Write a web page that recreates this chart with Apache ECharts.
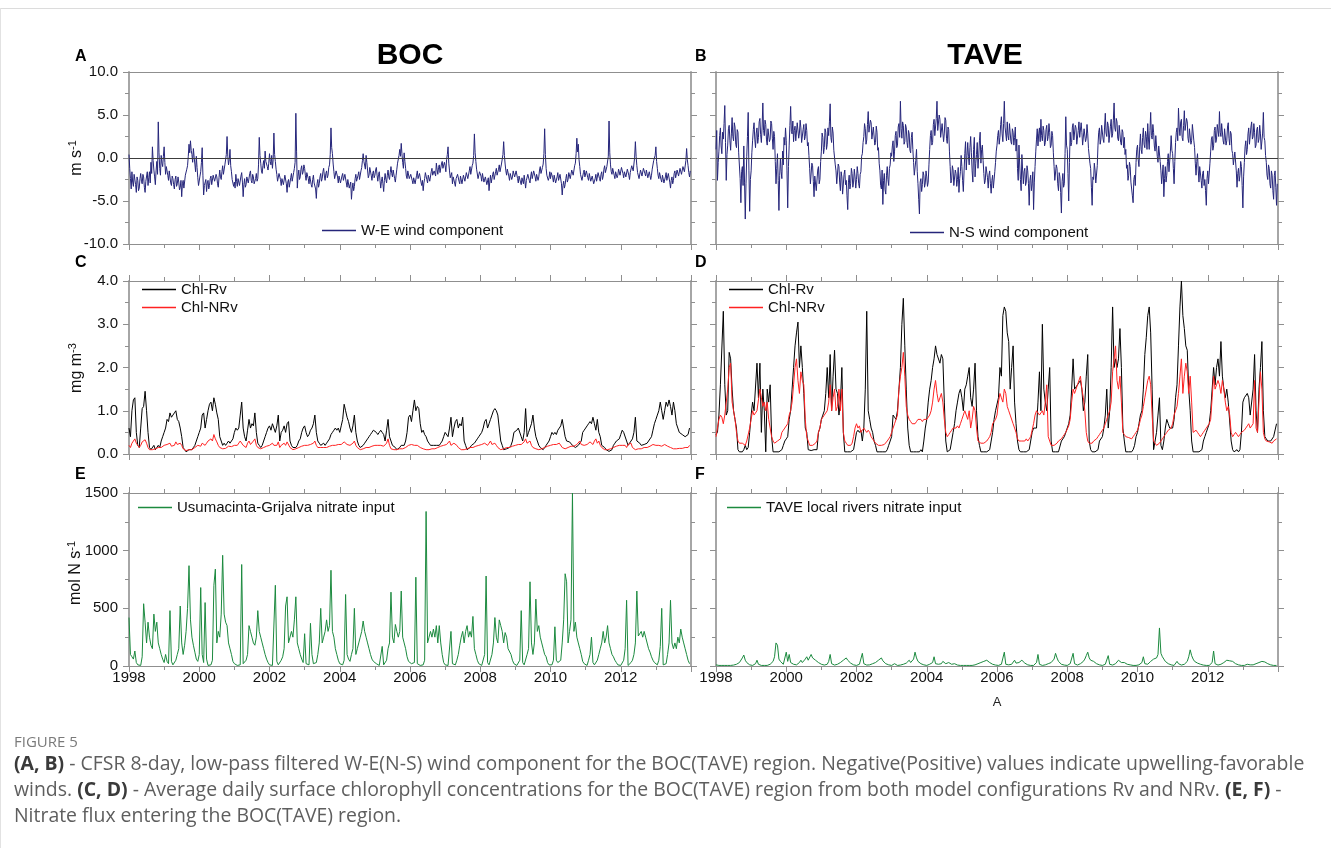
<!DOCTYPE html>
<html>
<head>
<meta charset="utf-8">
<title>Figure 5 – wind, chlorophyll and nitrate flux, BOC and TAVE</title>
<script src="https://cdn.jsdelivr.net/npm/echarts@6/dist/echarts.min.js"></script>
<style>
  html, body { margin: 0; padding: 0; background: #fff; }
  #wrap { position: relative; width: 1331px; height: 848px; overflow: hidden; background: #fff; }
  #chart { position: absolute; left: 0; top: 0; width: 1331px; height: 848px; }
  .rule-top { position: absolute; left: 0; top: 8px; width: 1331px; height: 1px; background: #dcdcdc; }
  .rule-left { position: absolute; left: 0; top: 8px; width: 1px; height: 840px; background: #e2e2e2; }
  #figlabel { position: absolute; left: 14px; top: 732px; font-family: 'Open Sans', sans-serif;
              font-size: 15px; line-height: 18px; color: #7a7a7a; white-space: nowrap; }
  #caption { position: absolute; left: 14px; top: 750px; font-family: 'Open Sans', sans-serif;
             font-size: 17px; line-height: 26px; color: #5e5e5e; white-space: nowrap; }
  #caption b { color: #3a3a3a; font-weight: 700; }
  #caption span { display: inline-block; }
</style>
</head>
<body>
<div id="wrap">
  <div class="rule-top"></div>
  <div class="rule-left"></div>
  <div id="chart"></div>
  <div id="figlabel">FIGURE 5</div>
  <div id="caption">
    <span id="capLine1"><b>(A, B)</b> - CFSR 8-day, low-pass filtered W-E(N-S) wind component for the BOC(TAVE) region. Negative(Positive) values indicate upwelling-favorable</span><br>
    <span>winds. <b>(C, D)</b> - Average daily surface chlorophyll concentrations for the BOC(TAVE) region from both model configurations Rv and NRv. <b>(E, F)</b> -</span><br>
    <span>Nitrate flux entering the BOC(TAVE) region.</span>
  </div>
</div>
<script>
// Time axis: each row is one year (1998 ... 2013); wind rows are weekly-ish,
// chlorophyll and nitrate rows are twice a month.
const FIRST_YEAR = 1998;
const yearTicks = [1998, 2000, 2002, 2004, 2006, 2008, 2010, 2012];

// (A) W-E wind component, BOC [m s-1]
const windWE = [
  [0.4,-1.2,-2.4,-3.6,-1.6,-2.8,-3.3,-1.9,-2.0,-3.1,-4.0,-2.2,-2.6,-3.8,-3.5,-2.4,-1.8,-2.7,-3.0,-1.9,-2.2,-3.4,-4.0,-2.7,-2.5,-1.6,-3.2,-2.3,-1.6,-2.9,-0.5,-1.8,1.3,-0.3,-1.4,-2.2,-3.1,-1.5,-0.4,-1.9,4.2,0.6,-1.2,-2.0,0.3,-0.6,-1.0,0.2],
  [1.3,-0.5,-1.9,-1.0,-0.8,-2.0,-2.6,-1.5,-1.7,-2.9,-3.2,-2.1,-2.4,-3.1,-3.6,-2.5,-2.1,-3.3,-3.0,-2.2,-2.8,-3.7,-3.4,-2.6,-4.5,-3.0,-2.6,-3.5,-3.3,-2.0,-2.2,-1.3,-0.9,0.2,1.6,0.6,2.0,0.9,0.4,-0.5,1.1,0.1,-0.7,-1.6,0.2,-1.1,-2.3,-3.2],
  [-3.0,-2.1,-1.6,-0.5,1.2,-2.0,-4.3,-3.2,-3.4,-2.5,-3.9,-2.9,-2.6,-3.6,-3.2,-2.4,-2.1,-3.1,-3.0,-2.0,-1.8,-2.7,-2.8,-1.9,-2.2,-3.0,-3.4,-2.3,-1.4,-2.2,-2.5,-1.6,-0.9,-1.9,-1.7,-0.8,-0.6,0.4,2.5,0.2,-0.8,-0.2,1.0,-0.9,-1.6,-2.5,-2.4,-3.3],
  [-2.8,-3.5,-1.9,-2.7,-3.3,-2.4,-2.2,-3.2,-3.0,-2.1,-1.7,-2.8,-4.5,-3.1,-2.4,-3.4,-3.1,-2.2,-2.0,-2.9,-2.7,-1.8,-1.5,-2.6,-2.9,-1.9,-2.2,-3.0,-3.1,-2.4,-1.8,-2.7,-2.4,-0.8,2.4,0.3,-0.6,-1.5,-1.8,-0.9,-0.3,-1.2,0.8,-0.4,-0.2,-1.0,-1.4,-0.6],
  [0.5,-0.4,-0.8,0.3,-1.2,-0.2,2.9,0.4,-0.4,-1.3,-1.9,-2.7,-2.8,-1.8,-1.6,-2.5,-3.2,-2.4,-2.3,-3.1,-3.0,-2.0,-2.1,-3.0,-4.0,-2.8,-2.5,-3.4,-3.3,-2.3,-1.8,-2.7,-2.6,-1.7,-1.2,-0.5,5.2,0.8,-3.5,-2.1,-1.4,-2.5,-2.2,-1.3,-0.9,-1.9,-1.6,-0.8],
  [-1.2,-2.0,-2.6,-1.7,-1.5,-2.4,-3.0,-2.1,-2.2,-3.1,-3.4,-2.5,-2.0,-2.9,-2.8,-3.6,-4.7,-3.0,-2.5,-3.4,-3.0,-2.2,-1.8,-2.7,-2.4,-1.6,-1.2,-2.1,-2.6,-1.8,-1.5,-2.3,-2.0,-1.1,-0.8,0.4,3.5,1.2,0.5,-0.7,-1.6,-2.4,-2.3,-1.5,-1.4,-2.2,-2.9,-2.1],
  [-2.2,-2.9,-3.0,-2.1,-1.8,-2.6,-2.7,-1.9,-2.0,-2.9,-3.4,-2.5,-2.6,-3.5,-3.6,-2.8,-4.8,-3.6,-2.9,-3.8,-3.3,-2.4,-1.9,-2.7,-2.8,-2.0,-1.6,-2.5,-2.4,-1.5,-1.1,-0.3,0.5,-0.4,-0.6,-1.3,0.3,-0.5,-1.4,-2.3,-2.0,-1.1,-1.2,-2.0,-2.6,-1.8,-1.5,-2.3],
  [-2.0,-1.4,-1.1,-2.0,-2.7,-1.9,-1.6,-2.6,-3.5,-2.7,-2.2,-3.0,-3.9,-2.6,-1.8,-2.5,-2.9,-2.0,-1.4,-2.2,-2.5,-1.7,-1.0,-1.8,-2.2,-1.4,-1.5,-2.4,-2.8,-2.0,-1.3,-0.6,-0.4,0.3,1.0,0.2,1.7,0.5,-0.5,-1.2,0.6,-0.4,-1.2,-2.1,-2.4,-1.5,-1.6,-2.4],
  [-2.6,-1.9,-1.7,-2.6,-3.0,-2.3,-2.1,-3.0,-2.8,-2.0,-1.5,-2.4,-2.6,-1.8,-2.0,-2.8,-3.2,-2.6,-3.8,-2.9,-2.4,-1.7,-1.6,-2.5,-2.9,-2.0,-1.8,-2.7,-2.5,-1.6,-1.2,-2.0,-2.2,-1.5,-1.4,-2.1,-0.6,-1.3,-1.9,-1.1,-0.8,-1.7,-1.5,-0.7,-0.4,-1.2,-1.3,-0.5],
  [-0.9,-1.6,-0.2,0.4,1.3,-0.6,-1.5,-2.3,-2.4,-1.7,-3.0,-2.2,-2.1,-2.9,-3.3,-2.4,-2.6,-1.9,-1.8,-2.7,-3.0,-2.1,-2.2,-3.0,-2.8,-2.0,-1.9,-2.7,-2.5,-1.7,-1.6,-2.4,-2.3,-1.5,-1.0,-1.9,-1.7,-0.9,-0.6,0.3,2.8,0.6,-0.4,-1.3,-1.5,-2.4,-2.3,-1.6],
  [-1.4,-2.1,-2.7,-1.8,-1.9,-2.8,-3.0,-2.2,-2.3,-3.1,-2.9,-2.3,-3.8,-2.8,-2.0,-2.9,-2.7,-1.9,-1.6,-2.5,-2.4,-1.6,-1.2,-2.0,-2.1,-1.3,-0.8,-1.6,-1.5,-0.7,-0.5,0.4,1.9,0.3,-0.7,-1.5,-2.0,-1.3,-1.2,-2.1,-2.6,-1.8,-1.7,-2.5,-2.2,-1.5,-1.4,-2.2],
  [-2.3,-1.5,-1.6,-2.4,-2.9,-2.1,-2.0,-2.8,-3.1,-2.3,-2.4,-3.0,-2.0,-2.7,-3.5,-2.6,-2.6,-1.9,-1.8,-2.6,-2.9,-2.1,-1.6,-2.4,-2.3,-1.5,-1.4,-2.2,-2.7,-1.9,-1.8,-2.6,-2.2,-1.4,-1.0,-1.8,-1.9,-1.1,-0.7,0.5,3.4,0.4,-1.2,-2.0,-1.8,-2.6,-2.3,-1.6],
  [-2.4,-1.7,-1.5,-2.3,-2.8,-2.0,-2.0,-2.9,-3.0,-2.2,-1.7,-2.6,-2.6,-1.9,-2.0,-3.0,-4.3,-3.2,-2.7,-3.5,-3.1,-2.4,-1.9,-2.8,-2.5,-1.7,-1.6,-2.4,-2.2,-1.4,-1.2,-2.0,-1.8,-0.9,-0.6,0.5,2.3,0.7,1.6,-0.2,-1.0,-1.9,-1.8,-2.6,-2.5,-1.7,-1.4,-2.2],
  [-2.2,-1.5,-1.4,-2.3,-2.6,-1.8,-1.8,-2.7,-2.9,-2.1,-2.3,-3.0,-3.2,-2.4,-1.9,-2.7,-2.5,-1.7,-1.5,-2.4,-2.7,-1.9,-1.6,-2.5,-2.1,-1.3,-0.9,-1.7,-1.8,-1.0,-1.2,0.2,4.3,0.6,-0.8,-1.6,-1.9,-1.2,-1.1,-2.0,-2.4,-1.6,-1.5,-2.3,-2.0,-1.3,-1.2,-2.0],
  [-1.8,-1.1,-1.0,-1.8,-2.3,-1.6,-1.4,-2.2,-2.0,-1.3,-1.2,-2.0,-2.5,-1.7,-1.6,-0.9,-0.7,-1.5,-1.3,0.1,1.9,0.2,-0.9,-1.7,-1.6,-2.4,-2.2,-1.4,-1.3,-2.1,-1.9,-1.2,-1.0,-1.8,-2.1,-1.4,-1.5,-2.3,-2.4,-1.6,-1.7,-2.5,-2.0,-1.3,-1.1,-0.3,-0.4,0.3],
  [1.3,-0.4,-1.2,-2.0,-2.4,-1.7,-1.6,-2.5,-2.8,-2.0,-2.0,-2.9,-3.0,-2.2,-1.7,-2.6,-2.5,-1.8,-1.8,-2.8,-3.5,-2.6,-2.2,-3.0,-2.6,-1.8,-1.5,-2.3,-2.2,-1.4,-1.3,-2.1,-2.0,-1.2,-1.1,-1.9,-1.8,-1.0,-0.8,-1.6,-1.4,-0.3,1.1,-0.2,-0.9,-1.7,-2.2,-1.5]
];

// (B) N-S wind component, TAVE [m s-1]
const windNS = [
  [1.0,3.2,-2.6,-0.5,0.8,2.6,3.5,1.4,0.5,3.0,2.2,4.0,6.1,1.8,-2.6,0.4,1.5,3.4,3.8,2.0,0.9,2.8,4.7,2.5,2.0,4.1,3.6,1.6,1.2,3.3,3.0,0.6,0.8,-2.4,-5.2,-1.6,-1.0,-3.2,1.4,-2.8,-7.1,-3.0,0.2,2.5,5.3,-1.5,-6.2,-2.5],
  [-1.5,0.6,2.0,3.3,4.1,2.2,1.2,2.9,3.5,1.7,2.4,4.2,4.6,2.7,1.8,3.6,6.4,3.2,2.6,4.4,3.9,2.1,1.5,3.4,3.2,1.9,2.2,4.3,4.0,2.3,1.0,3.1,2.5,-0.4,-3.0,-1.2,0.5,-2.6,-6.1,-2.0,0.0,-1.6,-2.4,0.8,-0.8,2.4,1.5,3.5],
  [2.0,-1.5,-5.8,-1.0,1.5,3.8,6.0,3.1,2.8,4.3,1.9,3.2,3.7,2.0,2.2,4.1,4.0,2.3,2.9,4.4,3.5,1.8,1.6,3.3,3.9,2.1,2.5,4.0,3.2,1.4,1.8,0.3,-1.2,-3.0,-2.8,-0.6,-0.9,-2.7,-4.5,-2.1,-2.0,-3.8,-3.6,-1.4,-1.0,-3.0,-2.5,-0.4],
  [0.8,2.9,2.4,0.5,1.2,3.4,3.0,1.0,1.6,3.5,2.6,4.2,6.3,2.4,1.8,3.6,2.9,0.9,0.7,-0.8,-1.5,-3.0,-3.2,-0.7,-1.0,-2.8,-3.8,-1.6,-2.2,-4.2,-4.0,-1.9,-1.4,-3.1,-2.6,-4.4,-6.0,-2.8,-2.0,-3.6,-3.0,-1.2,-1.8,-3.4,-2.8,-1.3,-2.2,-3.5],
  [-2.5,-1.0,-1.8,-3.0,-3.5,-1.9,-1.6,0.2,0.5,1.8,2.5,4.0,3.4,1.6,2.1,3.9,5.4,3.0,2.8,4.4,4.1,2.2,2.0,3.6,3.5,1.5,1.8,3.7,3.0,0.9,1.2,-0.6,-1.5,-3.2,-3.6,-1.4,-5.4,-2.6,-1.8,-3.7,-4.2,-2.0,-1.0,-2.5,-3.2,-1.2,-0.8,0.6],
  [0.2,1.4,2.0,-0.4,0.8,2.6,3.1,1.2,1.5,3.6,4.0,2.4,6.6,3.4,2.3,4.2,3.8,1.6,1.9,3.9,3.5,1.8,1.2,3.2,2.8,0.9,0.6,2.4,3.0,1.0,-0.5,-2.0,-2.2,-0.3,1.0,-1.6,-3.0,-4.8,-6.5,-2.8,-2.4,-3.9,-3.1,-1.6,-2.0,-3.4,-2.9,-1.5],
  [-2.2,-3.3,-2.8,-0.8,1.0,2.6,3.2,1.5,1.8,3.9,4.5,2.6,2.6,4.6,6.6,3.2,3.0,5.0,4.5,2.4,2.2,4.0,3.8,1.9,2.9,4.7,4.4,2.3,1.7,3.6,3.3,0.8,-1.0,-2.9,-2.6,-0.9,-1.4,-3.2,-3.0,-1.4,-1.8,-3.3,-2.5,-1.1,-4.0,-2.4,-1.6,0.3],
  [-1.0,-2.6,-3.9,-1.5,0.5,1.9,-1.4,0.3,1.8,0.2,-0.8,1.2,2.5,0.6,-1.5,-2.8,1.0,2.4,-2.2,-0.6,0.4,1.8,-1.2,0.1,2.0,3.0,-0.6,1.0,1.5,-0.3,-1.8,-3.0,-2.6,-1.0,-0.8,-2.3,-3.5,-2.0,-1.5,-3.0,-4.1,-2.6,-2.0,-3.5,-3.4,-1.6,-0.5,0.8],
  [1.5,2.6,3.2,1.6,2.4,3.9,4.8,2.8,1.9,4.0,6.6,3.6,3.5,2.0,4.2,2.6,2.1,4.0,3.8,1.9,1.6,3.4,3.0,1.5,2.4,3.6,0.8,2.2,-1.2,-2.6,1.5,-0.7,-2.5,-3.8,0.4,-1.4,-3.0,-1.6,-1.2,-3.2,-2.8,-0.9,-1.5,-3.0,-5.5,-2.6,-2.0,-3.8],
  [-3.0,-1.6,-6.0,-2.8,-1.0,0.8,2.2,3.4,1.4,2.8,3.5,1.9,4.5,2.6,2.0,3.7,3.2,1.4,1.8,3.3,3.8,2.0,2.5,4.0,3.0,1.2,1.5,3.1,2.6,0.6,-1.0,-2.6,-2.5,-0.8,-1.2,-3.0,-3.8,-1.7,-2.2,-4.0,-6.4,-2.7,-1.8,-3.4,-3.0,0.5,4.8,1.5],
  [1.0,-1.8,-5.0,-0.5,3.0,1.4,1.8,3.6,4.0,2.1,2.2,3.8,3.5,1.6,1.4,3.2,4.2,2.4,2.6,4.1,3.0,1.5,1.6,3.4,3.6,1.9,2.3,3.9,2.8,1.1,1.0,-0.6,-1.2,-3.4,-5.5,-2.2,-2.5,-0.6,-1.4,-2.9,-3.0,-0.9,1.5,3.0,3.5,1.6,2.2,3.8],
  [4.0,2.2,1.8,3.6,5.2,2.9,2.5,4.2,3.8,1.8,2.0,3.7,4.5,2.4,2.8,4.4,6.4,3.5,3.1,4.6,4.2,2.3,2.0,3.8,3.6,1.8,1.5,3.3,3.0,1.2,2.4,0.4,1.0,-1.2,-0.8,-2.6,-2.0,-0.5,-1.0,-2.8,-3.0,-4.4,-5.2,-2.5,-2.0,-3.2,-0.5,1.0],
  [1.5,-0.2,-1.0,1.3,2.8,1.0,0.5,2.4,3.5,1.6,1.2,3.1,2.5,1.0,4.0,2.2,1.0,3.2,5.3,2.6,2.2,3.9,3.0,1.4,0.8,2.6,2.4,0.2,-0.5,1.4,1.6,-0.4,-1.5,-3.0,-2.8,-0.8,-4.5,-2.4,-1.0,-2.8,-2.0,-0.4,0.5,-1.6,-1.5,0.8,2.6,0.9],
  [0.5,-1.2,-3.0,-0.4,1.8,3.0,3.5,2.0,5.8,3.6,2.6,4.2,4.5,2.4,2.0,3.8,5.5,3.2,3.0,4.6,4.2,2.3,1.8,3.4,3.3,1.6,2.0,3.9,3.8,2.0,1.2,-0.6,-2.0,-0.4,0.5,-1.4,-2.8,-1.0,-1.0,-2.6,-3.5,-1.8,-1.5,-3.2,-2.5,-3.8,-5.5,-2.4],
  [-1.5,-3.0,-2.8,-0.6,0.8,2.2,2.5,0.9,1.4,3.2,3.6,1.8,2.2,3.9,4.0,2.5,5.4,3.0,2.5,4.0,3.8,2.0,1.6,3.4,3.2,1.5,2.0,3.6,4.1,2.3,1.5,3.1,2.8,0.9,0.5,-0.8,-1.0,0.7,0.8,-1.5,-3.4,-1.8,-1.2,-2.7,-2.0,-0.4,-1.0,-3.2],
  [-5.8,-2.2,-0.5,1.3,2.0,0.4,1.0,2.8,3.5,1.6,1.8,3.6,4.2,2.2,2.5,4.0,3.0,1.2,1.5,3.3,3.6,1.8,2.2,3.8,2.8,1.0,1.0,2.9,5.3,2.4,2.0,0.3,-0.5,-2.0,-2.5,-0.8,-1.2,-3.0,-3.5,-1.5,-2.0,-3.8,-4.8,-2.0,-1.5,-3.4,-5.5,-3.0]
];

// (C) Surface chlorophyll, BOC, with rivers (Rv) [mg m-3]
const chlRvBOC = [
  [0.6,0.4,1.0,1.25,1.3,0.5,0.2,0.15,0.6,1.05,1.1,1.45,1.0,0.5,0.15,0.1,0.12,0.2,0.1,0.15,0.2,0.15,0.3,0.4],
  [0.5,0.6,0.8,0.75,0.95,0.85,0.9,0.95,1.0,0.8,0.75,0.6,0.4,0.15,0.1,0.05,0.08,0.1,0.12,0.1,0.15,0.2,0.3,0.4],
  [0.5,0.6,0.9,0.95,0.6,0.8,1.0,1.15,1.2,1.0,1.3,1.15,0.95,0.8,0.4,0.3,0.2,0.25,0.2,0.25,0.3,0.25,0.3,0.35],
  [0.5,0.6,0.55,0.6,0.9,1.2,0.6,0.4,0.3,0.55,0.8,0.6,0.7,0.65,0.95,0.5,0.25,0.2,0.15,0.2,0.3,0.4,0.5,0.6],
  [0.65,0.55,0.7,0.6,0.5,0.65,0.9,0.3,0.5,0.55,0.65,0.5,0.7,0.75,0.3,0.2,0.15,0.12,0.15,0.2,0.3,0.35,0.5,0.6],
  [0.65,0.5,0.4,0.45,0.55,0.6,0.7,0.9,0.5,0.3,0.25,0.2,0.2,0.25,0.2,0.25,0.3,0.35,0.45,0.5,0.55,0.6,0.55,0.6],
  [0.5,0.65,0.8,1.15,1.0,0.85,0.75,0.6,0.5,0.65,0.9,0.5,0.3,0.2,0.15,0.15,0.2,0.25,0.3,0.35,0.4,0.45,0.5,0.55],
  [0.55,0.5,0.45,0.5,0.55,0.5,0.45,0.3,0.55,0.8,0.4,0.3,0.2,0.2,0.15,0.1,0.1,0.15,0.2,0.2,0.2,0.3,0.5,0.85],
  [0.9,0.75,1.0,1.25,1.0,1.1,1.05,0.7,0.5,0.55,0.45,0.4,0.3,0.25,0.2,0.22,0.2,0.18,0.2,0.22,0.2,0.25,0.3,0.4],
  [0.5,0.5,0.4,0.6,0.85,0.4,0.6,0.75,0.8,0.6,0.7,0.65,0.85,0.3,0.2,0.1,0.1,0.15,0.2,0.2,0.25,0.3,0.35,0.4],
  [0.4,0.5,0.6,0.75,0.8,0.6,0.7,0.8,0.9,1.0,1.05,1.0,0.9,0.6,0.3,0.2,0.1,0.1,0.12,0.15,0.15,0.2,0.3,0.5],
  [0.5,0.55,0.6,0.6,0.4,0.3,0.5,1.05,0.4,0.5,0.6,0.7,0.9,0.6,0.4,0.3,0.2,0.15,0.12,0.1,0.15,0.2,0.2,0.3],
  [0.4,0.5,0.45,0.5,0.45,0.55,0.6,0.65,0.8,0.6,0.4,0.3,0.3,0.28,0.25,0.2,0.18,0.15,0.15,0.2,0.2,0.3,0.5,0.55],
  [0.6,0.65,0.7,0.75,0.7,0.85,0.7,0.55,0.8,0.5,0.4,0.2,0.2,0.15,0.1,0.08,0.06,0.05,0.1,0.2,0.25,0.3,0.3,0.35],
  [0.45,0.55,0.5,0.5,0.3,0.2,0.25,0.3,0.35,0.5,0.85,0.3,0.3,0.25,0.2,0.2,0.22,0.25,0.25,0.3,0.3,0.4,0.55,0.7],
  [0.8,0.9,1.0,1.2,1.0,0.8,1.0,1.2,1.1,1.25,1.1,0.9,1.2,1.0,0.7,0.6,0.5,0.5,0.45,0.45,0.4,0.4,0.45,0.6]
];

// (C) Surface chlorophyll, BOC, without rivers (NRv) [mg m-3]
const chlNRvBOC = [
  [0.2,0.15,0.25,0.3,0.35,0.25,0.2,0.15,0.2,0.28,0.3,0.33,0.25,0.15,0.1,0.08,0.1,0.1,0.12,0.12,0.15,0.13,0.15,0.18],
  [0.2,0.18,0.22,0.2,0.25,0.18,0.22,0.2,0.28,0.22,0.2,0.25,0.2,0.12,0.1,0.08,0.08,0.1,0.1,0.1,0.12,0.15,0.18,0.2],
  [0.2,0.18,0.25,0.22,0.2,0.25,0.3,0.28,0.35,0.3,0.45,0.35,0.28,0.2,0.15,0.12,0.12,0.15,0.13,0.15,0.18,0.15,0.17,0.2],
  [0.2,0.18,0.2,0.22,0.3,0.32,0.2,0.18,0.15,0.25,0.3,0.22,0.25,0.3,0.35,0.2,0.15,0.12,0.12,0.13,0.15,0.15,0.18,0.2],
  [0.2,0.22,0.25,0.2,0.18,0.2,0.28,0.15,0.2,0.22,0.25,0.2,0.28,0.25,0.15,0.12,0.1,0.1,0.12,0.12,0.15,0.15,0.18,0.2],
  [0.2,0.18,0.2,0.18,0.22,0.2,0.25,0.3,0.2,0.15,0.15,0.15,0.13,0.15,0.13,0.15,0.15,0.18,0.2,0.2,0.22,0.2,0.2,0.22],
  [0.2,0.22,0.25,0.28,0.25,0.22,0.2,0.2,0.18,0.25,0.3,0.2,0.15,0.12,0.1,0.1,0.12,0.12,0.15,0.15,0.15,0.18,0.18,0.2],
  [0.2,0.18,0.2,0.18,0.2,0.22,0.18,0.15,0.25,0.35,0.2,0.12,0.1,0.1,0.1,0.1,0.1,0.12,0.12,0.12,0.15,0.15,0.18,0.2],
  [0.2,0.22,0.25,0.2,0.22,0.2,0.18,0.15,0.15,0.12,0.12,0.1,0.1,0.1,0.12,0.12,0.12,0.12,0.13,0.15,0.15,0.18,0.18,0.2],
  [0.2,0.22,0.2,0.3,0.2,0.22,0.25,0.28,0.2,0.15,0.12,0.1,0.1,0.1,0.12,0.12,0.13,0.15,0.15,0.15,0.18,0.18,0.2,0.2],
  [0.2,0.22,0.2,0.25,0.22,0.2,0.25,0.3,0.22,0.2,0.25,0.2,0.15,0.12,0.1,0.12,0.12,0.13,0.15,0.15,0.15,0.18,0.18,0.2],
  [0.2,0.2,0.22,0.25,0.22,0.2,0.28,0.35,0.25,0.22,0.3,0.2,0.15,0.12,0.12,0.12,0.1,0.12,0.12,0.13,0.15,0.15,0.18,0.2],
  [0.2,0.2,0.22,0.2,0.22,0.2,0.25,0.22,0.15,0.12,0.12,0.12,0.15,0.15,0.18,0.2,0.18,0.2,0.22,0.25,0.3,0.22,0.25,0.2],
  [0.2,0.22,0.25,0.28,0.3,0.22,0.3,0.35,0.25,0.3,0.2,0.15,0.12,0.1,0.08,0.1,0.12,0.12,0.13,0.15,0.15,0.18,0.18,0.2],
  [0.18,0.2,0.22,0.2,0.15,0.22,0.2,0.25,0.15,0.12,0.1,0.1,0.12,0.12,0.12,0.13,0.15,0.15,0.15,0.18,0.18,0.2,0.22,0.2],
  [0.2,0.22,0.2,0.22,0.18,0.2,0.22,0.2,0.18,0.15,0.15,0.15,0.12,0.12,0.12,0.12,0.13,0.13,0.13,0.15,0.15,0.15,0.15,0.2]
];

// (D) Surface chlorophyll, TAVE, with rivers (Rv) [mg m-3]
const chlRvTAVE = [
  [0.45,0.5,0.9,1.6,1.6,3.3,1.6,0.9,1.0,2.35,2.2,1.5,1.0,0.8,0.6,0.1,0.05,0.05,0.05,0.1,0.2,0.1,0.15,0.5],
  [0.9,1.2,1.0,1.0,2.1,1.3,2.1,0.5,1.5,1.0,0.05,1.5,1.2,1.6,0.4,0.05,0.05,0.05,0.05,0.05,0.05,0.1,0.2,0.3],
  [0.35,0.4,0.8,1.0,1.5,2.0,2.5,2.8,3.05,2.0,2.5,2.0,1.4,0.6,0.5,0.1,0.1,0.08,0.1,0.1,0.1,0.1,0.5,0.6],
  [0.8,0.9,1.0,1.4,2.0,1.3,2.3,1.0,1.8,2.4,1.5,1.4,0.9,1.2,2.0,0.5,0.05,0.05,0.05,0.05,0.05,0.08,0.1,0.3],
  [0.5,0.55,0.5,0.55,0.3,0.6,1.5,3.3,1.0,0.8,0.6,0.5,0.3,0.2,0.05,0.05,0.05,0.05,0.05,0.05,0.05,0.1,0.2,0.3],
  [0.4,0.9,0.85,0.8,1.0,1.5,2.0,3.0,3.6,2.5,1.5,0.6,0.2,0.05,0.05,0.05,0.05,0.05,0.05,0.05,0.1,0.05,0.3,0.6],
  [0.8,1.2,1.5,1.7,2.0,2.2,2.5,2.3,2.3,2.1,2.3,2.2,1.2,0.3,0.05,0.05,0.1,0.3,0.5,0.7,1.0,1.2,1.4,1.5],
  [1.3,1.0,1.5,1.6,1.8,2.0,1.3,1.1,1.5,2.1,1.0,0.4,0.2,0.05,0.05,0.05,0.05,0.05,0.05,0.1,0.3,0.5,0.8,1.0],
  [1.0,1.3,2.0,1.8,3.2,3.4,3.3,2.8,2.6,1.5,2.0,2.5,1.2,0.7,0.3,0.1,0.05,0.05,0.05,0.05,0.05,0.05,0.1,0.3],
  [0.5,0.6,0.6,0.6,1.2,1.9,1.0,3.0,1.5,1.2,1.0,1.5,2.0,0.3,0.05,0.05,0.05,0.05,0.05,0.05,0.3,0.3,0.4,0.5],
  [0.5,0.7,0.9,1.5,2.2,1.5,1.5,1.6,1.6,1.7,1.5,1.0,1.2,1.8,2.3,0.3,0.1,0.05,0.05,0.05,0.05,0.1,0.3,0.3],
  [0.4,0.6,0.9,1.5,0.6,1.0,2.0,3.4,2.0,2.2,2.0,2.2,2.9,2.0,0.6,0.3,0.05,0.05,0.05,0.05,0.05,0.1,0.2,0.4],
  [0.5,0.7,0.9,1.0,1.5,2.3,2.7,3.2,3.4,2.8,1.5,0.1,0.3,0.5,0.9,1.3,0.2,0.1,0.3,0.6,0.8,0.7,0.6,0.6],
  [0.6,0.8,1.3,1.6,2.5,3.4,4.0,3.2,2.9,2.5,2.4,1.5,1.0,0.3,0.05,0.05,0.05,0.05,0.05,0.05,0.1,0.3,0.4,0.5],
  [0.6,0.7,1.0,1.5,2.0,1.6,2.0,2.2,1.8,2.6,1.8,1.5,1.3,1.5,1.2,1.2,0.3,0.1,0.05,0.05,0.1,0.05,0.1,0.5],
  [1.2,1.3,1.3,1.4,1.3,0.9,0.9,1.5,2.3,1.0,0.5,1.5,2.0,2.6,1.0,0.4,0.35,0.3,0.3,0.3,0.3,0.4,0.4,0.7]
];

// (D) Surface chlorophyll, TAVE, without rivers (NRv) [mg m-3]
const chlNRvTAVE = [
  [0.4,0.6,0.8,0.9,0.85,0.7,0.9,1.2,1.5,2.0,2.1,1.2,1.0,0.8,0.5,0.3,0.25,0.25,0.25,0.25,0.2,0.3,0.3,0.6],
  [0.8,1.0,0.9,0.9,1.0,1.0,1.5,1.3,1.1,1.2,1.0,1.2,0.8,0.8,0.4,0.3,0.25,0.25,0.3,0.3,0.35,0.5,0.55,0.6],
  [0.6,0.7,0.9,1.0,1.2,1.6,2.0,2.2,1.7,1.4,1.9,1.7,1.6,0.8,0.4,0.3,0.2,0.2,0.2,0.2,0.25,0.3,0.5,0.6],
  [0.8,0.85,0.9,0.9,1.0,1.2,1.6,1.0,1.3,1.5,1.0,1.1,1.5,1.0,1.5,0.5,0.3,0.25,0.2,0.2,0.2,0.25,0.4,0.6],
  [0.7,0.6,0.65,0.5,0.55,0.6,0.55,0.5,0.55,0.5,0.4,0.35,0.3,0.25,0.22,0.2,0.2,0.2,0.2,0.22,0.25,0.3,0.35,0.4],
  [0.5,0.6,0.7,0.8,0.9,1.5,1.8,2.0,2.35,1.8,1.1,0.9,0.8,0.75,0.7,0.7,0.7,0.75,0.8,0.8,0.8,0.75,0.8,0.8],
  [0.8,0.8,0.9,1.0,1.2,1.5,1.7,1.4,1.2,1.3,1.4,1.2,0.8,0.5,0.4,0.45,0.5,0.55,0.6,0.6,0.6,0.65,0.6,0.7],
  [0.8,0.9,1.0,1.0,0.8,1.0,0.6,0.8,1.1,1.0,0.6,0.3,0.3,0.25,0.25,0.25,0.25,0.3,0.35,0.4,0.5,0.7,0.75,0.8],
  [0.9,1.2,1.4,1.3,1.2,1.5,1.4,1.1,1.0,0.9,0.9,0.7,0.6,0.5,0.35,0.3,0.3,0.3,0.3,0.3,0.35,0.3,0.35,0.4],
  [0.4,0.7,0.9,1.0,1.0,0.9,0.9,1.0,0.9,1.2,1.6,0.4,0.3,0.2,0.2,0.2,0.2,0.25,0.3,0.3,0.35,0.4,0.45,0.5],
  [0.5,0.65,0.8,1.2,1.5,1.4,1.5,1.6,1.6,1.8,1.5,1.3,1.0,0.5,0.3,0.25,0.25,0.25,0.3,0.3,0.35,0.4,0.45,0.5],
  [0.55,0.6,0.7,0.8,0.9,1.0,1.2,1.9,2.2,2.5,1.7,1.5,1.8,1.2,0.5,0.45,0.4,0.4,0.38,0.35,0.35,0.4,0.45,0.5],
  [0.55,0.65,0.8,0.9,1.1,1.3,1.5,1.7,1.8,1.6,0.9,0.3,0.25,0.2,0.2,0.25,0.3,0.35,0.4,0.45,0.5,0.55,0.55,0.6],
  [0.7,0.9,1.0,1.1,1.4,1.8,2.2,1.4,1.8,2.1,1.9,1.4,1.8,1.2,0.5,0.5,0.55,0.5,0.45,0.4,0.45,0.5,0.55,0.6],
  [0.6,0.7,0.8,1.3,1.8,1.5,1.6,1.7,1.6,1.4,1.7,1.5,1.2,1.0,1.1,0.9,0.5,0.4,0.45,0.5,0.45,0.4,0.45,0.5],
  [0.5,0.55,0.6,0.65,0.7,0.6,0.65,0.7,1.7,0.6,0.5,1.2,1.9,1.5,0.5,0.35,0.3,0.3,0.28,0.25,0.25,0.3,0.3,0.35]
];

// (E) Usumacinta-Grijalva nitrate input [mol N s-1]
const nitrateBOC = [
  [420,100,80,60,130,30,10,5,5,80,540,380,200,380,250,180,150,450,300,380,200,150,100,60],
  [30,100,40,20,480,40,10,5,50,100,150,520,200,100,180,300,500,870,400,250,180,120,60,40],
  [100,680,100,30,550,60,5,5,10,50,700,840,200,300,250,450,960,450,380,350,200,150,100,40],
  [20,10,5,5,10,880,20,30,50,100,350,300,250,200,180,250,480,300,250,200,150,100,60,30],
  [10,5,5,20,700,40,10,10,50,80,150,520,600,200,250,300,250,400,600,200,150,100,60,30],
  [280,20,10,10,370,100,20,10,30,100,200,500,200,250,300,400,300,350,830,300,250,150,100,50],
  [20,10,10,50,620,100,60,40,100,150,500,100,150,200,250,300,390,300,250,200,150,100,60,40],
  [30,20,10,5,5,170,10,5,50,150,200,640,250,200,360,300,250,300,650,250,200,150,80,40],
  [30,20,10,30,770,20,5,5,5,10,50,1340,200,250,300,250,320,250,350,200,350,200,100,30],
  [10,5,5,10,300,20,10,10,50,100,180,250,300,200,300,350,250,300,250,430,150,100,50,20],
  [5,5,20,100,780,30,10,20,100,200,420,250,200,400,350,300,200,290,250,150,150,100,50,20],
  [5,5,10,50,480,30,10,20,100,150,730,200,100,200,580,300,350,250,200,150,100,80,30,10],
  [5,10,50,340,50,30,20,50,200,400,800,730,200,300,400,1500,300,380,250,200,150,100,40,20],
  [5,5,50,100,250,30,10,20,50,100,150,200,300,200,250,350,200,150,100,80,50,30,10,5],
  [5,10,50,150,570,5,10,30,50,100,200,650,260,250,300,250,300,250,250,150,120,80,50,30],
  [20,10,50,170,500,10,5,20,100,200,570,200,150,200,150,250,200,320,250,200,150,100,50,20]
];

// (F) TAVE local rivers nitrate input [mol N s-1]
const nitrateTAVE = [
  [10,8,5,5,5,5,5,5,5,5,5,5,8,10,15,20,30,45,70,95,50,30,18,10],
  [8,5,10,20,50,15,8,5,5,5,5,5,10,15,20,40,80,200,180,60,40,25,15,20],
  [120,40,100,30,20,15,10,10,20,30,50,30,40,60,80,50,60,100,70,80,50,40,30,20],
  [15,10,8,10,15,40,100,20,10,8,10,15,20,30,40,50,60,70,50,35,25,15,10,8],
  [5,5,15,30,110,20,10,8,8,10,15,20,25,30,40,50,60,70,45,30,20,15,10,8],
  [5,5,20,10,5,5,8,10,15,20,25,35,50,30,40,60,120,70,40,30,20,15,10,8],
  [5,5,15,20,30,80,20,10,15,25,20,40,25,20,25,30,20,15,25,20,10,8,5,5],
  [5,5,5,5,5,5,5,5,8,10,15,20,25,30,35,40,45,50,40,30,20,15,10,8],
  [5,5,10,15,30,120,15,8,10,20,15,30,50,25,20,30,40,50,35,25,15,10,8,5],
  [5,5,15,30,100,15,8,5,8,10,15,20,25,30,40,60,110,70,40,25,15,10,8,5],
  [5,5,20,30,110,20,10,8,15,20,30,40,60,90,120,70,50,60,40,30,20,15,10,8],
  [5,5,15,20,90,15,10,8,10,20,30,50,40,30,25,30,20,15,10,10,8,5,5,5],
  [5,10,20,30,80,20,10,15,30,40,50,60,60,70,100,330,110,80,60,40,30,20,15,10],
  [8,5,15,40,20,10,8,10,15,20,40,80,140,90,60,40,30,25,20,15,10,8,5,5],
  [5,5,15,30,130,20,10,8,10,15,20,30,40,50,60,45,55,40,30,20,15,10,8,5],
  [5,5,10,15,30,10,8,10,15,20,25,30,35,40,30,35,25,20,15,10,8,5,5,5]
];

// ---------------------------------------------------------------------------
// Turn the yearly rows into [decimal year, value] pairs.
function toPairs(rows) {
  const out = [];
  rows.forEach((row, i) => {
    row.forEach((v, k) => out.push([FIRST_YEAR + i + k / row.length, v]));
  });
  return out;
}

const FAMILY = '"Liberation Sans", Arial, sans-serif';
const AXIS_GREY = '#8f8f8f';
const SIDE_GREY = '#a6a6a6';
const W = 562;

// Panel frames: A, B (wind), C, D (chlorophyll), E, F (nitrate)
const frames = [
  { left: 129, top: 72,  height: 172 },
  { left: 716, top: 72,  height: 172 },
  { left: 129, top: 281, height: 173 },
  { left: 716, top: 281, height: 173 },
  { left: 129, top: 493, height: 173 },
  { left: 716, top: 493, height: 173 }
];

const yScales = [
  { min: -10, max: 10, interval: 5, fmt: v => v.toFixed(1) },
  { min: -10, max: 10, interval: 5, fmt: v => v.toFixed(1) },
  { min: 0, max: 4, interval: 1, fmt: v => v.toFixed(1) },
  { min: 0, max: 4, interval: 1, fmt: v => v.toFixed(1) },
  { min: 0, max: 1500, interval: 500, fmt: v => String(v) },
  { min: 0, max: 1500, interval: 500, fmt: v => String(v) }
];

const grid = frames.map(f => ({ left: f.left, top: f.top, width: W, height: f.height }));

const xAxis = [];
const yAxis = [];
frames.forEach((f, g) => {
  const isBottomRow = g >= 4;
  const topTicks = g >= 2;
  const common = {
    type: 'value', gridIndex: g, min: 1998, max: 2014, interval: 2,
    splitLine: { show: false }
  };
  xAxis.push(Object.assign({}, common, {
    position: 'bottom',
    axisLine: { show: true, onZero: false, lineStyle: { color: AXIS_GREY, width: 1 } },
    axisTick: { show: true, length: 6, lineStyle: { color: AXIS_GREY } },
    minorTick: { show: true, splitNumber: 2, length: 4, lineStyle: { color: AXIS_GREY } },
    axisLabel: {
      show: isBottomRow, margin: 4, fontSize: 15, fontFamily: FAMILY, color: '#111',
      showMaxLabel: false,
      formatter: v => (yearTicks.indexOf(v) >= 0 ? String(v) : '')
    },
    name: g === 5 ? 'A' : '',
    nameLocation: 'middle', nameGap: 30,
    nameTextStyle: { fontSize: 13, fontFamily: FAMILY, color: '#222' }
  }));
  xAxis.push(Object.assign({}, common, {
    position: 'top',
    axisLine: { show: true, onZero: false, lineStyle: { color: AXIS_GREY, width: 1 } },
    axisTick: { show: topTicks, length: 6, lineStyle: { color: AXIS_GREY } },
    minorTick: { show: topTicks, splitNumber: 2, length: 4, lineStyle: { color: AXIS_GREY } },
    axisLabel: { show: false }
  }));

  const ys = yScales[g];
  const leftPanel = g % 2 === 0;
  const yCommon = {
    type: 'value', gridIndex: g, min: ys.min, max: ys.max, interval: ys.interval,
    splitLine: { show: false },
    axisLine: { show: true, onZero: false, lineStyle: { color: SIDE_GREY, width: 2 } },
    axisTick: { show: true, length: 6, lineStyle: { color: AXIS_GREY } },
    minorTick: { show: true, splitNumber: 2, length: 4, lineStyle: { color: AXIS_GREY } }
  };
  yAxis.push(Object.assign({}, yCommon, {
    position: 'left',
    axisLabel: {
      show: leftPanel, margin: 11, fontSize: 15, fontFamily: FAMILY, color: '#111',
      formatter: ys.fmt
    }
  }));
  yAxis.push(Object.assign({}, yCommon, {
    position: 'right',
    axisLabel: { show: false }
  }));
});

function lineSeries(name, rows, g, color, extra) {
  return Object.assign({
    name: name, type: 'line', xAxisIndex: 2 * g, yAxisIndex: 2 * g,
    data: toPairs(rows), symbol: 'none', showSymbol: false, silent: true,
    lineStyle: { width: 1, color: color }, itemStyle: { color: color },
    animation: false
  }, extra || {});
}

const zeroLine = {
  markLine: {
    silent: true, symbol: 'none', animation: false,
    label: { show: false },
    lineStyle: { color: '#3c3c3c', width: 1, type: 'solid' },
    data: [{ yAxis: 0 }]
  }
};

const NAVY = '#25257a';
const RED = '#ff2222';
const GREEN = '#1c8a3f';

const series = [
  lineSeries('W-E wind component', windWE, 0, NAVY, zeroLine),
  lineSeries('N-S wind component', windNS, 1, NAVY, zeroLine),
  lineSeries('Chl-Rv', chlRvBOC, 2, '#000000'),
  lineSeries('Chl-NRv', chlNRvBOC, 2, RED),
  lineSeries('Chl-Rv', chlRvTAVE, 3, '#000000'),
  lineSeries('Chl-NRv', chlNRvTAVE, 3, RED),
  lineSeries('Usumacinta-Grijalva nitrate input', nitrateBOC, 4, GREEN),
  lineSeries('TAVE local rivers nitrate input', nitrateTAVE, 5, GREEN)
];

// Legends: a thin line sample followed by the series name.
function legendAt(names, left, top) {
  return {
    data: names, left: left, top: top, orient: 'vertical',
    padding: 0, itemGap: 3, itemWidth: 34, itemHeight: 1.3,
    icon: 'rect', selectedMode: false,
    textStyle: { fontSize: 15, fontFamily: FAMILY, color: '#111', lineHeight: 15 }
  };
}

const legend = [
  legendAt(['W-E wind component'], 322, 223),
  legendAt(['N-S wind component'], 910, 225),
  legendAt(['Chl-Rv', 'Chl-NRv'], 142, 282),
  legendAt(['Chl-Rv', 'Chl-NRv'], 729, 282),
  legendAt(['Usumacinta-Grijalva nitrate input'], 138, 500),
  legendAt(['TAVE local rivers nitrate input'], 727, 500)
];

function panelLetter(text, x, y) {
  return { type: 'text', x: x, y: y, silent: true,
           style: { text: text, font: 'bold 16px ' + FAMILY,
                    fill: '#000', align: 'left', verticalAlign: 'middle' } };
}

// Rotated axis title with a superscript exponent.
function axisTitle(text, x, y) {
  return {
    type: 'text', x: x, y: y, rotation: Math.PI / 2, silent: true,
    style: {
      text: text, fill: '#111', align: 'center', verticalAlign: 'middle',
      font: '16px ' + FAMILY,
      rich: {
        base: { font: '16px ' + FAMILY, fill: '#111', lineHeight: 19, verticalAlign: 'middle' },
        sup: { font: '11px ' + FAMILY, fill: '#111', lineHeight: 19, verticalAlign: 'top' }
      }
    }
  };
}

const graphic = [
  { type: 'text', x: 410, y: 56, silent: true,
    style: { text: 'BOC', font: 'bold 30px ' + FAMILY, fill: '#000',
             align: 'center', verticalAlign: 'middle' } },
  { type: 'text', x: 985, y: 56, silent: true,
    style: { text: 'TAVE', font: 'bold 30px ' + FAMILY, fill: '#000',
             align: 'center', verticalAlign: 'middle' } },
  panelLetter('A', 75, 57),
  panelLetter('B', 695, 57),
  panelLetter('C', 75, 263),
  panelLetter('D', 695, 263),
  panelLetter('E', 75, 475),
  panelLetter('F', 695, 475),
  axisTitle('{base|m s}{sup|-1}', 77, 158),
  axisTitle('{base|mg m}{sup|-3}', 77, 368),
  axisTitle('{base|mol N s}{sup|-1}', 76, 573)
];

const chart = echarts.init(document.getElementById('chart'), null, { renderer: 'canvas' });
chart.setOption({
  backgroundColor: 'transparent',
  animation: false,
  grid: grid,
  xAxis: xAxis,
  yAxis: yAxis,
  legend: legend,
  series: series,
  graphic: graphic
});

// Fit the caption's first line to the figure width.
(function fitCaption() {
  const cap = document.getElementById('caption');
  const line = document.getElementById('capLine1');
  const target = 1291;
  const w = line.getBoundingClientRect().width;
  if (w > 0) {
    const size = 17 * target / w;
    cap.style.fontSize = size.toFixed(2) + 'px';
  }
})();
</script>
</body>
</html>
